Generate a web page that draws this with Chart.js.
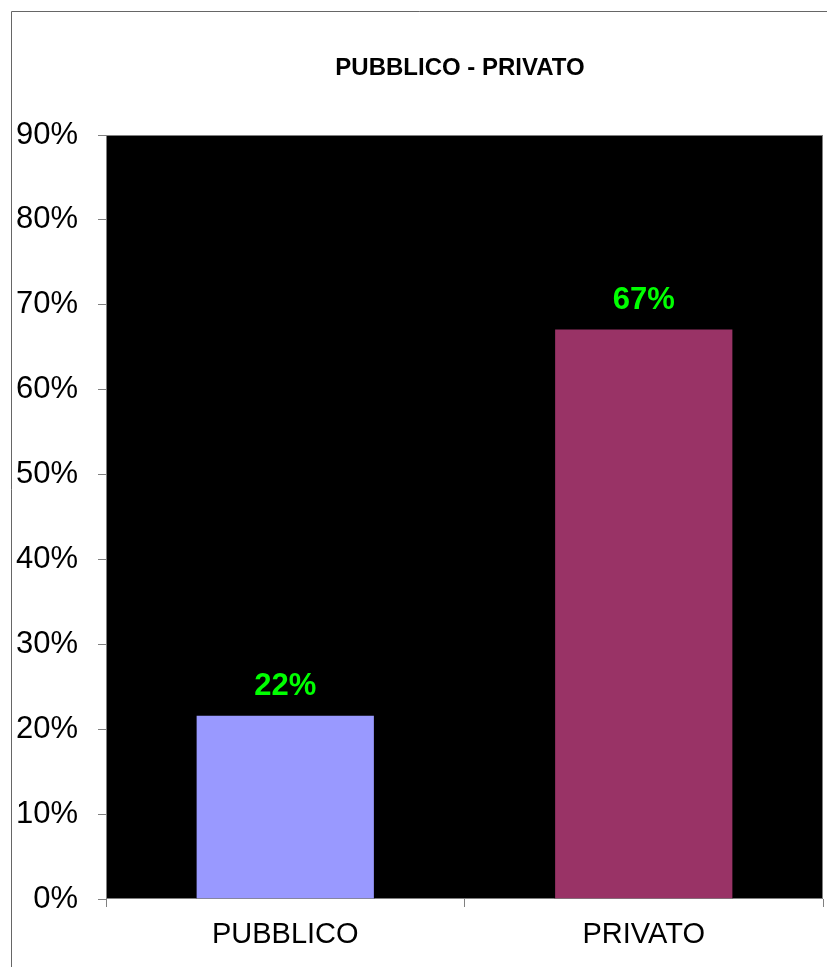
<!DOCTYPE html>
<html>
<head>
<meta charset="utf-8">
<title>PUBBLICO - PRIVATO</title>
<script src="https://cdn.jsdelivr.net/npm/chart.js@4/dist/chart.umd.min.js"></script>
<style>
    html, body { margin: 0; padding: 0; background: #ffffff; }
    #wrap { width: 827px; height: 967px; }
</style>
</head>
<body>
<div id="wrap"><canvas id="graficoSettore" width="827" height="967"></canvas></div>
<script>
// ========== DATI ==========
const categorie = ['PUBBLICO', 'PRIVATO'];
const percentuali = [21.7, 67.2];
const coloriBarre = ['#9999ff', '#993366'];
const titolo = 'PUBBLICO - PRIVATO';
const assePercMax = 90;
const assePercPasso = 10;

// sfondo nero dell'area del grafico + cornice esterna + titolo
const sfondoPlugin = {
    id: 'sfondoPlugin',
    beforeDraw(chart) {
        const { ctx, chartArea } = chart;
        ctx.save();
        ctx.fillStyle = '#000000';
        ctx.fillRect(chartArea.left, chartArea.top, chartArea.right - chartArea.left, chartArea.bottom - chartArea.top);
        ctx.strokeStyle = '#808080';
        ctx.lineWidth = 1;
        ctx.strokeRect(chartArea.left + 0.5, chartArea.top + 0.5, chartArea.right - chartArea.left - 1, chartArea.bottom - chartArea.top - 1);
        // cornice del grafico
        ctx.strokeStyle = '#666666';
        ctx.beginPath();
        ctx.moveTo(11.5, chart.height);
        ctx.lineTo(11.5, 11.5);
        ctx.lineTo(chart.width, 11.5);
        ctx.stroke();
        // titolo
        ctx.fillStyle = '#000000';
        ctx.font = 'bold 24px "Liberation Sans", Arial, sans-serif';
        ctx.textAlign = 'center';
        ctx.textBaseline = 'middle';
        ctx.fillText(titolo, 460, 68);
        ctx.restore();
    }
};

// etichette dei valori sopra le barre
const etichettePlugin = {
    id: 'etichettePlugin',
    afterDatasetsDraw(chart) {
        const { ctx } = chart;
        const meta = chart.getDatasetMeta(0);
        ctx.save();
        ctx.fillStyle = '#00ff00';
        ctx.font = 'bold 31px "Liberation Sans", Arial, sans-serif';
        ctx.textAlign = 'center';
        ctx.textBaseline = 'alphabetic';
        meta.data.forEach((barra, i) => {
            ctx.fillText(Math.round(percentuali[i]) + '%', barra.x, barra.y - 20);
        });
        ctx.restore();
    }
};

const ctx = document.getElementById('graficoSettore');
const grafico = new Chart(ctx, {
    type: 'bar',
    data: {
        labels: categorie,
        datasets: [{
            data: percentuali,
            backgroundColor: coloriBarre,
            borderColor: '#000000',
            borderWidth: 1,
            categoryPercentage: 1.0,
            barPercentage: 0.5
        }]
    },
    options: {
        responsive: false,
        animation: false,
        layout: { padding: { top: 135, right: 4, left: 0, bottom: 0 } },
        plugins: {
            legend: { display: false },
            tooltip: { enabled: false },
            title: { display: false }
        },
        scales: {
            x: {
                afterFit: (scale) => { scale.height = 68; },
                grid: { drawOnChartArea: false, drawTicks: true, tickLength: 8, color: '#808080', offset: true },
                border: { display: false },
                ticks: {
                    color: '#000000',
                    padding: 11,
                    font: { family: '"Liberation Sans", Arial, sans-serif', size: 29 }
                }
            },
            y: {
                min: 0,
                max: assePercMax,
                afterFit: (scale) => { scale.width = 106; },
                grid: { drawOnChartArea: false, drawTicks: true, tickLength: 8, color: '#808080' },
                border: { display: false },
                ticks: {
                    stepSize: assePercPasso,
                    color: '#000000',
                    padding: 20,
                    font: { family: '"Liberation Sans", Arial, sans-serif', size: 31 },
                    callback: (v) => v + '%'
                }
            }
        }
    },
    plugins: [sfondoPlugin, etichettePlugin]
});
</script>
</body>
</html>
